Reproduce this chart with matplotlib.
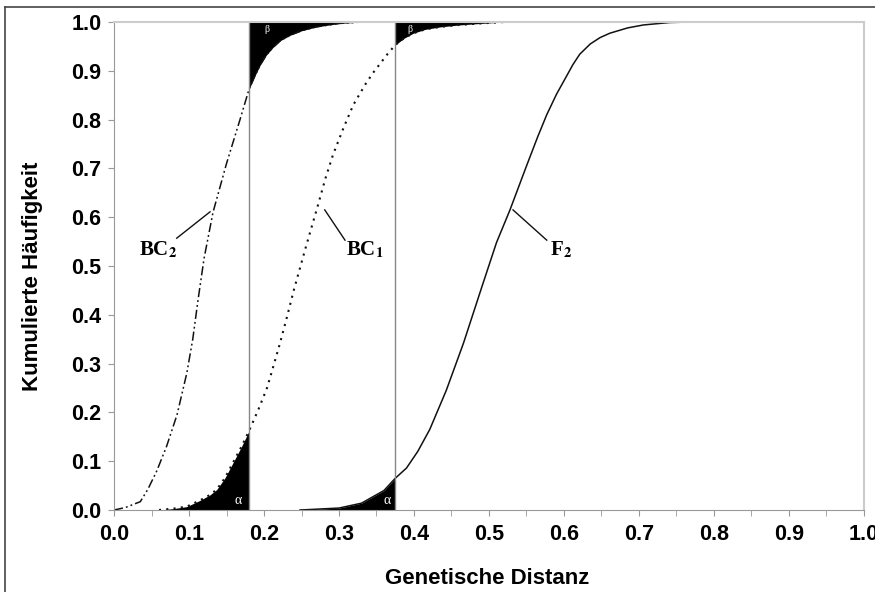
import numpy as np
import matplotlib
matplotlib.use("Agg")
import matplotlib.pyplot as plt
from matplotlib.lines import Line2D

plt.rcParams['font.family'] = ['Liberation Sans', 'DejaVu Sans']
plt.rcParams['mathtext.fontset'] = 'stix'

# kumulierte Verteilungen
bc2_x = [0.0, 0.015, 0.035, 0.045, 0.057, 0.070, 0.084, 0.097, 0.105, 0.112, 0.120,
         0.132, 0.150, 0.168, 0.180, 0.188, 0.195, 0.203, 0.212, 0.222, 0.235,
         0.250, 0.270, 0.300, 0.330]
bc2_y = [0.0, 0.005, 0.017, 0.042, 0.080, 0.130, 0.195, 0.280, 0.350, 0.430, 0.515,
         0.610, 0.710, 0.800, 0.862, 0.890, 0.912, 0.932, 0.948, 0.962, 0.973,
         0.982, 0.990, 0.997, 1.0]

bc1_x = [0.060, 0.080, 0.097, 0.115, 0.128, 0.137, 0.148, 0.159, 0.170, 0.180, 0.192,
         0.204, 0.212, 0.221, 0.230, 0.240, 0.256, 0.272, 0.282, 0.292, 0.306,
         0.319, 0.335, 0.345, 0.355, 0.365, 0.375, 0.387, 0.399, 0.415, 0.435,
         0.460, 0.488, 0.520]
bc1_y = [0.0, 0.003, 0.007, 0.020, 0.031, 0.042, 0.066, 0.098, 0.130, 0.162, 0.204,
         0.250, 0.292, 0.340, 0.392, 0.452, 0.540, 0.625, 0.680, 0.728, 0.783,
         0.830, 0.872, 0.895, 0.915, 0.935, 0.953, 0.967, 0.977, 0.985, 0.990,
         0.994, 0.997, 1.0]

f2_x = [0.248, 0.300, 0.330, 0.360, 0.375, 0.390, 0.405, 0.421, 0.443, 0.466, 0.490,
        0.510, 0.528, 0.550, 0.565, 0.577, 0.590, 0.603, 0.612, 0.621, 0.635,
        0.648, 0.661, 0.685, 0.706, 0.741, 0.768]
f2_y = [0.0, 0.004, 0.014, 0.040, 0.065, 0.086, 0.120, 0.165, 0.245, 0.342, 0.455,
        0.548, 0.615, 0.705, 0.765, 0.810, 0.852, 0.888, 0.913, 0.934, 0.955,
        0.968, 0.977, 0.988, 0.994, 0.999, 1.0]

# Schwellenwerte
cut1 = 0.18
cut2 = 0.375

bc2_x, bc2_y = np.array(bc2_x), np.array(bc2_y)
bc1_x, bc1_y = np.array(bc1_x), np.array(bc1_y)
f2_x, f2_y = np.array(f2_x), np.array(f2_y)

fig = plt.figure(figsize=(8.75, 5.92), dpi=100)
ax = fig.add_axes([0.1303, 0.1385, 0.8571, 0.8243])

# alpha / beta Flaechen
ax.fill_between(bc1_x, 0, bc1_y, where=bc1_x <= cut1, color='black', lw=0)
ax.fill_between(bc2_x, bc2_y, 1, where=bc2_x >= cut1, color='black', lw=0)
ax.fill_between(f2_x, 0, f2_y, where=f2_x <= cut2, color='black', lw=0)
ax.fill_between(bc1_x, bc1_y, 1, where=bc1_x >= cut2, color='black', lw=0)

ax.plot(bc2_x, bc2_y, color='#111111', lw=1.1, ls=(0, (6, 2, 1.2, 2, 1.2, 2)))
ax.plot(bc1_x, bc1_y, color='#111111', lw=1.5, ls=(0, (1, 2.5)))
ax.plot(f2_x, f2_y, color='#111111', lw=1.1)

ax.vlines([cut1, cut2], 0, 1, color='#888888', lw=1.0)

# Beschriftungen der Kurven
lab = dict(family=['Liberation Serif', 'DejaVu Serif'], fontsize=15, weight='bold',
           ha='center', va='center')
ax.text(0.0587, 0.533, r'BC$_\mathbf{2}$', **lab)
ax.plot([0.0836, 0.128], [0.557, 0.611], color='#111111', lw=1.0)
ax.text(0.335, 0.533, r'BC$_\mathbf{1}$', **lab)
ax.plot([0.281, 0.308], [0.615, 0.553], color='#111111', lw=1.0)
ax.text(0.596, 0.533, r'F$_\mathbf{2}$', **lab)
ax.plot([0.532, 0.577], [0.615, 0.553], color='#111111', lw=1.0)

small = dict(family=['Liberation Serif', 'DejaVu Serif'], color='white',
             ha='center', va='center')
ax.text(0.166, 0.02, 'α', fontsize=10, **small)
ax.text(0.364, 0.02, 'α', fontsize=10, **small)
ax.text(0.204, 0.984, 'β', fontsize=7, **small)
ax.text(0.395, 0.984, 'β', fontsize=7, **small)

ax.set_xlim(0, 1.0)
ax.set_ylim(0, 1.0)
ax.set_xticks(np.arange(0, 1.01, 0.1))
ax.set_xticks(np.arange(0, 1.01, 0.05), minor=True)
ax.set_yticks(np.arange(0, 1.01, 0.1))
ax.set_xticklabels([f'{v:.1f}' for v in np.arange(0, 1.01, 0.1)])
ax.set_yticklabels([f'{v:.1f}' for v in np.arange(0, 1.01, 0.1)])
for t in ax.get_xticklabels() + ax.get_yticklabels():
    t.set_fontweight('bold')
    t.set_fontsize(15.5)
ax.tick_params(axis='x', which='both', length=4, color='#999999', pad=6)
ax.tick_params(axis='y', length=4, color='#999999', pad=5)

for s in ['left', 'bottom']:
    ax.spines[s].set_color('#999999')
for s in ['top', 'right']:
    ax.spines[s].set_color('#cccccc')
    ax.spines[s].set_linewidth(1.5)

fig.text(0.0377, 0.533, 'Kumulierte Häufigkeit', rotation=90, fontsize=16,
         weight='bold', ha='center', va='center')
fig.text(0.5566, 0.022, 'Genetische Distanz', fontsize=16, weight='bold',
         ha='center', va='center')

# aeusserer Rahmen
fig.add_artist(Line2D([5 / 875, 5 / 875], [0, 1 - 7 / 592], color='#444444', lw=1.2))
fig.add_artist(Line2D([5 / 875, 1], [1 - 7 / 592, 1 - 7 / 592], color='#444444', lw=1.2))

fig.savefig('out.png', dpi=100)
